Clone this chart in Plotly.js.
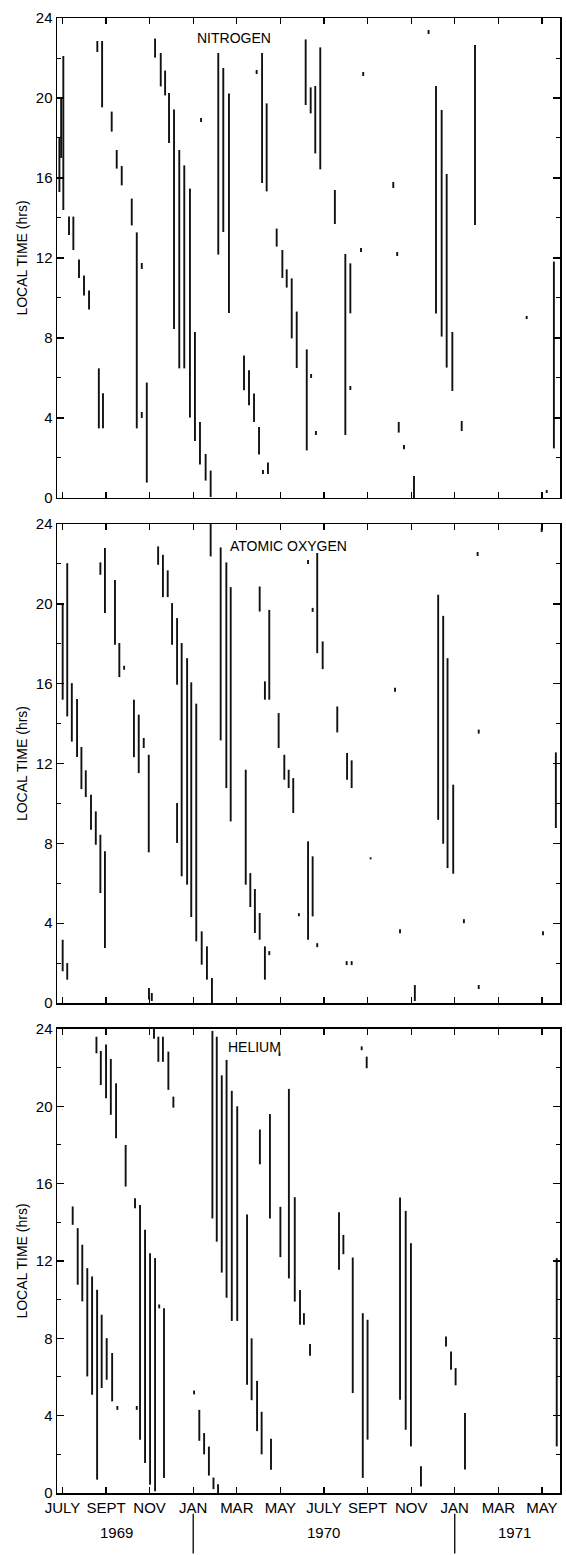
<!DOCTYPE html>
<html>
<head>
<meta charset="utf-8">
<script src="https://cdn.plot.ly/plotly-3.0.1.min.js"></script>
<style>html,body{margin:0;padding:0;background:#fff;}#chart{width:566px;height:1555px;}</style>
</head>
<body>
<div id="chart"></div>
<script>
// x values: months since 1 July 1969; y values: local time (hrs), start and end of each coverage segment
const n2Month = [-0.14,0.04,-0.06,0.30,0.50,0.76,0.99,1.22,1.60,1.82,1.67,1.86,2.26,2.49,2.72,3.18,3.41,3.64,3.64,3.87,
  4.25,4.51,4.71,4.89,5.12,5.36,5.59,5.85,6.08,6.31,6.57,6.80,6.36,7.15,7.38,7.64,8.33,8.56,8.79,9.02,
  9.20,9.43,8.91,9.16,9.37,9.83,10.09,10.29,10.52,10.75,11.21,11.41,11.63,11.16,11.39,11.60,11.83,12.50,12.98,13.21,
  13.21,13.70,13.80,15.18,15.36,15.43,15.67,16.13,16.80,17.14,17.40,17.63,17.89,18.32,18.93,21.30,22.55,22.22];
const n2Start = [15.3,14.4,17.0,13.15,12.4,11.0,10.13,9.42,22.3,19.53,3.48,3.48,18.32,16.47,15.63,13.63,3.48,11.45,4.0,0.77,
  22.02,20.58,20.13,17.75,8.45,6.48,6.48,4.02,2.85,1.67,0.87,0.05,18.8,12.17,13.3,9.25,5.38,4.63,3.8,2.17,
  1.2,1.2,21.2,15.75,15.33,12.57,11.0,10.52,7.98,6.5,2.38,6.0,3.15,19.65,19.23,17.23,16.43,13.7,3.15,9.23,
  5.4,12.3,21.1,15.5,12.1,3.27,2.43,0,23.2,9.23,8.07,6.52,5.35,3.35,13.65,8.95,2.48,0.25];
const n2End = [18.0,22.1,20.0,14.07,14.07,11.93,11.13,10.38,22.85,22.85,6.48,5.23,19.32,17.4,16.6,14.97,13.28,11.75,4.3,5.77,
  22.97,22.25,21.37,20.25,19.42,17.4,16.63,15.47,8.3,3.8,2.2,1.37,19.0,22.25,21.5,20.22,7.13,6.38,5.22,3.55,
  1.4,1.77,21.4,22.25,19.73,13.47,12.4,11.43,10.98,9.32,7.43,6.2,3.35,22.93,20.53,20.6,22.53,15.4,12.2,11.73,
  5.6,12.5,21.3,15.8,12.3,3.8,2.65,1.1,23.4,20.6,19.4,16.2,8.3,3.85,22.65,9.1,11.82,0.4];

const oMonth = [0.01,0.22,0.43,0.67,0.87,1.07,1.31,1.53,1.74,1.95,1.74,1.95,0.01,0.22,2.41,2.61,2.83,3.28,3.50,3.73,
  3.96,3.97,4.10,4.39,4.61,4.83,5.03,5.26,5.26,5.47,5.72,5.91,6.14,6.39,6.63,6.86,6.80,7.26,7.52,7.72,
  8.41,8.62,8.83,9.05,9.29,9.49,9.05,9.29,9.49,9.92,10.18,10.38,10.59,11.27,11.48,11.69,11.94,12.61,13.06,13.27,
  11.27,11.48,10.85,11.69,13.04,13.27,14.14,15.26,15.49,16.17,17.24,17.47,17.67,17.93,18.42,19.05,19.10,19.10,22.64,22.05,21.99];
const oStart = [15.2,14.36,13.1,12.33,10.72,10.32,8.68,7.93,5.51,2.76,21.46,19.54,1.59,1.17,17.95,16.33,16.7,12.32,11.52,12.78,
  7.55,0.17,0.1,21.96,20.34,20.34,17.95,15.95,8.02,6.35,5.93,4.31,3.09,1.92,1.17,0,22.38,13.16,10.77,9.1,
  5.93,4.81,3.51,3.17,1.17,2.4,19.62,15.2,15.2,12.78,11.19,10.77,9.52,22.0,19.6,17.53,16.73,13.56,11.19,10.77,
  3.17,4.34,4.35,2.8,1.9,1.9,7.2,15.6,3.5,0.1,9.18,7.98,6.76,6.48,4.0,22.4,13.5,0.7,8.77,3.4,23.6];
const oEnd = [20.0,22.04,16.03,15.23,12.83,11.66,10.44,9.6,8.43,7.6,22.08,22.8,3.17,2.0,21.2,18.04,16.9,15.2,14.45,13.28,
  12.44,0.75,0.5,22.88,22.46,21.68,20.04,19.29,10.02,18.04,17.28,16.07,15.0,3.59,2.84,1.25,24,22.83,22.08,20.84,
  11.69,6.51,5.71,4.51,2.84,2.6,20.87,16.12,19.7,14.53,12.44,11.69,11.27,22.2,19.8,22.55,18.12,14.86,12.53,12.16,
  8.1,7.35,4.5,3.0,2.1,2.1,7.3,15.8,3.7,0.9,20.46,19.4,17.28,10.94,4.2,22.6,13.7,0.9,12.56,3.6,23.8];

const heMonth = [0.47,0.70,0.91,1.14,1.36,1.59,1.80,2.03,2.28,2.52,1.56,1.76,2.00,2.22,2.46,2.90,3.33,3.41,3.56,3.79,
  4.02,4.25,4.44,4.66,4.20,4.40,4.61,4.86,5.09,6.04,6.28,6.50,6.72,6.93,7.14,6.88,7.08,7.31,7.53,7.77,
  8.02,8.47,8.68,8.93,9.14,9.57,9.06,9.52,10.00,9.96,10.39,10.66,10.90,11.08,11.36,12.69,12.89,13.32,13.78,14.00,
  13.73,13.96,15.49,15.75,15.99,16.45,17.60,17.83,18.04,18.47,22.68];
const heStart = [13.87,10.77,9.91,6.03,5.08,0.69,5.43,5.86,4.74,4.3,22.74,21.1,20.42,19.56,18.35,15.85,14.73,4.3,2.76,1.55,
  0.43,0.09,9.55,0.78,23.5,22.3,22.3,20.85,19.93,5.1,2.7,2.0,0.9,0.2,0,14.2,13.0,11.4,10.1,8.9,
  8.9,5.6,4.8,3.2,2.0,1.2,17.0,14.2,12.2,22.6,11.1,9.9,8.7,8.7,7.1,11.54,12.35,5.17,0.78,2.76,
  22.9,21.97,4.82,3.27,2.41,0.34,7.58,6.37,5.57,1.21,2.41];
const heEnd = [14.82,13.7,12.84,11.63,11.2,10.51,9.22,8.01,7.24,4.5,23.6,22.86,23.2,22.45,21.19,18.0,15.25,4.5,14.9,13.61,
  12.4,12.15,9.75,9.56,24,23.6,23.6,22.83,20.5,5.3,4.3,3.1,2.4,0.8,0.45,23.9,23.6,21.6,22.4,20.8,
  20.0,14.4,8.0,5.8,4.2,2.8,18.8,19.6,14.8,22.8,20.9,15.3,10.5,9.3,7.7,14.52,13.35,12.18,9.3,8.96,
  23.1,22.57,15.28,14.59,12.92,1.38,8.1,7.32,6.46,4.14,12.15];

const panelNames = ["NITROGEN", "ATOMIC OXYGEN", "HELIUM"];
const monthTickVals = [0,2,4,6,8,10,12,14,16,18,20,22];
const monthTickText = ["JULY","SEPT","NOV","JAN","MAR","MAY","JULY","SEPT","NOV","JAN","MAR","MAY"];
const yearLabels = ["1969","1970","1971"];
const yearCenters = [2.46, 12.0, 20.76];
const yearBreaks = [6, 18];
const hourTicks = [0,4,8,12,16,20,24];

function segments(m, s, e) {
  const x = [], y = [];
  for (let i = 0; i < m.length; i++) {
    x.push(m[i], m[i], null);
    y.push(s[i], e[i], null);
  }
  return {x, y};
}

const sets = [[n2Month,n2Start,n2End],[oMonth,oStart,oEnd],[heMonth,heStart,heEnd]];
const traces = sets.map((d, i) => {
  const sg = segments(d[0], d[1], d[2]);
  return {
    type: 'scatter', mode: 'lines', x: sg.x, y: sg.y,
    xaxis: i === 0 ? 'x' : 'x' + (i + 1), yaxis: i === 0 ? 'y' : 'y' + (i + 1),
    line: {color: '#111', width: 1.9}, connectgaps: false, hoverinfo: 'skip', showlegend: false
  };
});

const font = {family: 'Liberation Sans, Arial, sans-serif', color: '#000'};
const domains = [[0.6746, 1.0], [0.3322, 0.6569], [0.0, 0.3146]];
const layout = {
  width: 566, height: 1555,
  margin: {l: 57, r: 6, t: 18, b: 62},
  paper_bgcolor: '#fff', plot_bgcolor: '#fff',
  font: Object.assign({size: 15}, font),
  showlegend: false,
  annotations: [], shapes: []
};
const namePos = [[7.87, 23.0], [10.35, 22.9], [8.81, 23.07]];
for (let i = 0; i < 3; i++) {
  const sx = i === 0 ? '' : String(i + 1);
  layout['xaxis' + sx] = {
    anchor: 'y' + sx, domain: [0, 1], range: [-0.25, 22.83],
    tickvals: monthTickVals, ticktext: monthTickText, showticklabels: i === 2,
    ticks: 'inside', ticklen: 6, tickwidth: 1.3, tickcolor: '#000',
    mirror: 'ticks', showline: true, linecolor: '#000', linewidth: 1.5,
    showgrid: false, zeroline: false, fixedrange: true,
    tickfont: Object.assign({size: 15}, font)
  };
  layout['yaxis' + sx] = {
    anchor: 'x' + sx, domain: domains[i], range: [0, 24],
    tickvals: hourTicks, ticks: 'inside', ticklen: 7, tickwidth: 1.3, tickcolor: '#000',
    minor: {dtick: 2, tick0: 0, ticks: 'inside', ticklen: 4, tickcolor: '#000', tickwidth: 1},
    mirror: 'ticks', showline: true, linecolor: '#000', linewidth: 1.5,
    showgrid: false, zeroline: false, fixedrange: true,
    tickfont: Object.assign({size: 15}, font),
    title: {text: 'LOCAL TIME (hrs)', font: Object.assign({size: 14}, font), standoff: 5}
  };
  layout.annotations.push({
    text: panelNames[i], xref: 'x' + sx, yref: 'y' + sx, x: namePos[i][0], y: namePos[i][1],
    showarrow: false, font: Object.assign({size: 14}, font), xanchor: 'center', yanchor: 'middle'
  });
}
yearLabels.forEach((t, k) => {
  layout.annotations.push({
    text: t, xref: 'x3', yref: 'paper', x: yearCenters[k], y: -0.027,
    showarrow: false, font: Object.assign({size: 15}, font), xanchor: 'center', yanchor: 'middle'
  });
});
yearBreaks.forEach(b => {
  layout.shapes.push({type: 'line', xref: 'x3', yref: 'paper', x0: b, x1: b, y0: -0.014, y1: -0.041,
    line: {color: '#000', width: 1.3}});
});

Plotly.newPlot('chart', traces, layout, {staticPlot: true, displayModeBar: false});
</script>
</body>
</html>
